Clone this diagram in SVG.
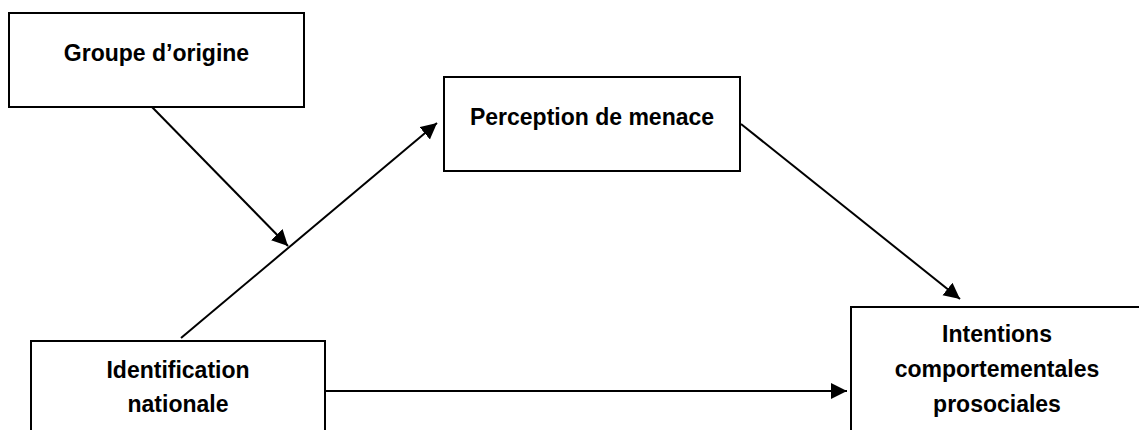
<svg xmlns="http://www.w3.org/2000/svg" width="1139" height="430" viewBox="0 0 1139 430">
<style>
.box{fill:#fff;stroke:#000;stroke-width:2}
.lbl{font-family:"Liberation Sans",Arial,sans-serif;font-weight:bold;font-size:23px;fill:#000;text-anchor:middle}
.con{stroke:#000;stroke-width:2;fill:none;marker-end:url(#ah)}
</style>
<defs>
<marker id="ah" markerUnits="userSpaceOnUse" markerWidth="17" markerHeight="17" refX="16" refY="8" orient="auto" viewBox="0 0 17 17">
<path d="M0,0 L16,8 L0,16 z" fill="#000"/>
</marker>
</defs>
<rect width="1139" height="430" fill="#fff"/>
<g id="groupe">
<rect class="box" x="9" y="13" width="295" height="94"/>
<text class="lbl" x="156.5" y="61">Groupe d’origine</text>
</g>
<g id="perception">
<rect class="box" x="444" y="77" width="296" height="94"/>
<text class="lbl" x="592" y="125">Perception de menace</text>
</g>
<g id="identification">
<rect class="box" x="31" y="341" width="294" height="110"/>
<text class="lbl" x="178" y="378">Identification</text>
<text class="lbl" x="178" y="412">nationale</text>
</g>
<g id="intentions">
<rect class="box" x="851" y="307" width="300" height="140"/>
<text class="lbl" x="997" y="342">Intentions</text>
<text class="lbl" x="997" y="377">comportementales</text>
<text class="lbl" x="997" y="412">prosociales</text>
</g>
<g id="connectors">
<line class="con" x1="152" y1="107" x2="288" y2="246"/>
<line class="con" x1="181" y1="338" x2="437" y2="123"/>
<line class="con" x1="741" y1="124" x2="960" y2="299"/>
<line class="con" x1="325" y1="391" x2="847" y2="391"/>
</g>
</svg>
